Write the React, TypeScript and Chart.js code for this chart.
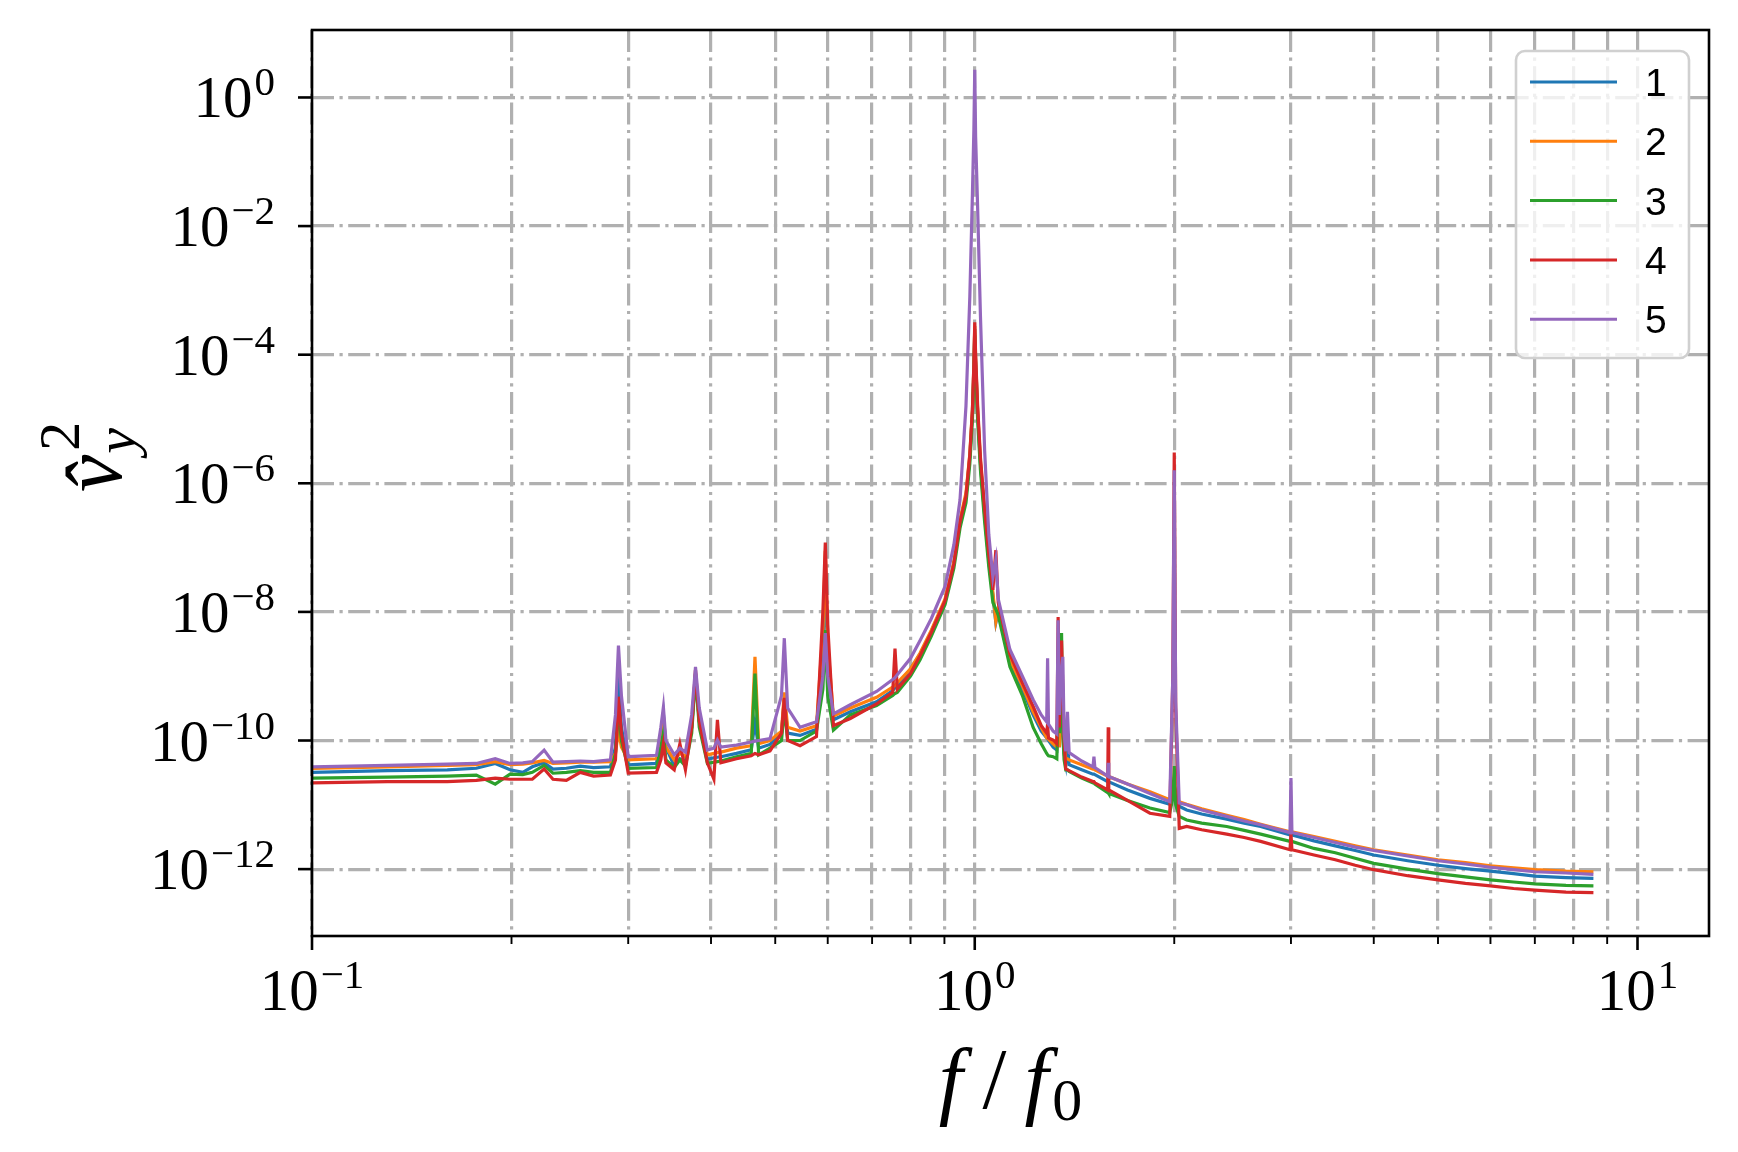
import React, { useEffect, useRef } from "react";
import { Chart, registerables } from "chart.js";

Chart.register(...registerables);

// ---------- data ----------
const frequencyRatio = [
  0.100, 0.130, 0.160, 0.177, 0.189, 0.199, 0.208, 0.215, 0.224, 0.231,
  0.242, 0.254, 0.266, 0.282, 0.287, 0.290, 0.293, 0.300, 0.331, 0.336,
  0.339, 0.342, 0.352, 0.359, 0.366, 0.374, 0.379, 0.384, 0.395, 0.404,
  0.409, 0.414, 0.437, 0.460, 0.466, 0.472, 0.491, 0.511, 0.516, 0.522,
  0.545, 0.577, 0.590, 0.595, 0.600, 0.612, 0.649, 0.711, 0.752, 0.758,
  0.764, 0.800, 0.827, 0.860, 0.902, 0.930, 0.950, 0.970, 0.983, 0.992,
  0.997, 1.000, 1.003, 1.010, 1.020, 1.035, 1.050, 1.065, 1.076, 1.085,
  1.130, 1.180, 1.225, 1.260, 1.284, 1.288, 1.292, 1.313, 1.330, 1.336,
  1.342, 1.352, 1.358, 1.364, 1.372, 1.380, 1.388, 1.45, 1.508, 1.513,
  1.518, 1.587, 1.590, 1.593, 1.70, 1.838, 1.969, 1.990, 2.000, 2.010,
  2.035, 2.088, 2.20, 2.40, 2.55, 2.70, 2.99, 3.00, 3.01, 3.25,
  3.50, 3.75, 4.00, 4.50, 5.00, 5.50, 6.00, 6.50, 7.00, 7.80,
  8.58,
];

const series1 = [
  3.2e-11, 3.4e-11, 3.5e-11, 3.7e-11, 4.4e-11, 3.5e-11, 3.2e-11, 3.9e-11, 4.5e-11, 3.6e-11,
  3.7e-11, 4.0e-11, 3.8e-11, 3.9e-11, 7.9e-11, 9.8e-10, 1.6e-10, 4.2e-11, 4.4e-11, 1.3e-10,
  2.6e-10, 7.9e-11, 4.0e-11, 5.2e-11, 4.7e-11, 1.6e-10, 1.1e-9, 2.0e-10, 5.1e-11, 5.4e-11,
  5.5e-11, 5.6e-11, 6.3e-11, 7.2e-11, 1.9e-10, 7.6e-11, 8.7e-11, 1.3e-10, 4.5e-10, 1.3e-10,
  1.2e-10, 1.5e-10, 2.5e-9, 5.0e-8, 1.6e-9, 2.1e-10, 2.8e-10, 4.0e-10, 6.0e-10, 6.6e-10,
  7.1e-10, 1.3e-9, 2.2e-9, 5.0e-9, 1.5e-8, 5.6e-8, 2.5e-7, 6.3e-7, 2.5e-6, 1.3e-5,
  6.3e-5, 2.5e-4, 7.9e-5, 1.3e-5, 2.0e-6, 3.2e-7, 6.3e-8, 1.8e-8, 6.8e-9, 1.0e-8,
  1.6e-9, 6.3e-10, 2.5e-10, 1.4e-10, 1.1e-10, 1.07e-10, 1.0e-10, 7.9e-11, 7.1e-11, 4.0e-10,
  7.9e-11, 5.0e-10, 2.5e-10, 6.3e-11, 4.4e-11, 1.0e-10, 4.2e-11, 3.5e-11, 3.0e-11, 3.0e-11,
  2.95e-11, 2.3e-11, 2.3e-11, 2.3e-11, 1.7e-11, 1.26e-11, 1.02e-11, 1.5e-11, 2.0e-11, 1.4e-11,
  9.5e-12, 8.3e-12, 7.2e-12, 6.0e-12, 5.2e-12, 4.6e-12, 3.4e-12, 3.4e-12, 3.4e-12, 2.75e-12,
  2.3e-12, 1.95e-12, 1.66e-12, 1.35e-12, 1.15e-12, 1.02e-12, 9.3e-13, 8.5e-13, 7.8e-13, 7.4e-13,
  7.2e-13,
];

const series2 = [
  3.7e-11, 3.9e-11, 4.1e-11, 4.2e-11, 4.7e-11, 4.2e-11, 4.3e-11, 4.5e-11, 4.9e-11, 4.4e-11,
  4.5e-11, 4.6e-11, 4.6e-11, 4.7e-11, 6.3e-11, 1.45e-10, 7.9e-11, 5.0e-11, 5.2e-11, 1.0e-10,
  2.4e-10, 7.9e-11, 5.0e-11, 6.3e-11, 5.6e-11, 1.6e-10, 1.1e-9, 2.0e-10, 6.0e-11, 6.3e-11,
  6.5e-11, 6.6e-11, 7.6e-11, 8.3e-11, 2.0e-9, 8.9e-11, 1.0e-10, 1.4e-10, 5.6e-10, 1.6e-10,
  1.4e-10, 1.7e-10, 5.0e-9, 8.9e-8, 3.2e-9, 2.4e-10, 3.2e-10, 4.7e-10, 6.8e-10, 7.2e-10,
  7.9e-10, 1.3e-9, 2.3e-9, 5.2e-9, 1.6e-8, 6.0e-8, 2.7e-7, 7.1e-7, 2.8e-6, 1.4e-5,
  7.1e-5, 2.8e-4, 8.9e-5, 1.4e-5, 2.2e-6, 3.5e-7, 7.1e-8, 2.0e-8, 7.1e-9, 1.1e-8,
  1.8e-9, 7.1e-10, 2.8e-10, 1.6e-10, 1.1e-10, 1.1e-10, 1.05e-10, 8.9e-11, 7.9e-11, 2.5e-10,
  7.9e-11, 2.5e-10, 1.6e-10, 7.9e-11, 5.2e-11, 5.2e-11, 5.0e-11, 4.2e-11, 3.6e-11, 3.6e-11,
  3.5e-11, 2.8e-11, 2.8e-11, 2.75e-11, 2.1e-11, 1.6e-11, 1.2e-11, 1.6e-11, 2.0e-11, 1.5e-11,
  1.12e-11, 1.02e-11, 8.7e-12, 6.9e-12, 5.9e-12, 5.0e-12, 3.8e-12, 3.8e-12, 3.8e-12, 3.2e-12,
  2.7e-12, 2.3e-12, 2.0e-12, 1.66e-12, 1.4e-12, 1.26e-12, 1.12e-12, 1.05e-12, 9.8e-13, 9.3e-13,
  9.1e-13,
];

const series3 = [
  2.6e-11, 2.7e-11, 2.8e-11, 2.9e-11, 2.1e-11, 3.0e-11, 2.95e-11, 3.2e-11, 4.1e-11, 3.1e-11,
  3.2e-11, 3.4e-11, 3.2e-11, 3.2e-11, 6.3e-11, 3.2e-10, 1.0e-10, 3.7e-11, 3.8e-11, 7.9e-11,
  1.3e-10, 5.0e-11, 3.8e-11, 5.0e-11, 4.0e-11, 1.3e-10, 1.0e-9, 1.6e-10, 4.4e-11, 4.6e-11,
  4.7e-11, 4.8e-11, 5.6e-11, 6.3e-11, 1.1e-9, 6.0e-11, 7.6e-11, 1.0e-10, 3.2e-10, 1.0e-10,
  1.0e-10, 1.4e-10, 6.3e-10, 5.2e-9, 5.0e-10, 1.45e-10, 2.5e-10, 3.5e-10, 5.0e-10, 5.4e-10,
  5.6e-10, 1.0e-9, 1.8e-9, 4.2e-9, 1.3e-8, 4.8e-8, 2.0e-7, 5.0e-7, 2.0e-6, 1.0e-5,
  5.0e-5, 2.0e-4, 6.3e-5, 1.0e-5, 1.6e-6, 2.5e-7, 5.0e-8, 1.4e-8, 1.1e-8, 8.9e-9,
  1.4e-9, 5.0e-10, 1.6e-10, 8.9e-11, 6.3e-11, 6.0e-11, 5.8e-11, 5.6e-11, 5.2e-11, 3.2e-10,
  1.3e-10, 4.7e-9, 1.3e-10, 5.0e-11, 3.5e-11, 3.5e-11, 3.3e-11, 2.6e-11, 2.2e-11, 2.2e-11,
  2.1e-11, 1.55e-11, 1.55e-11, 1.5e-11, 1.17e-11, 8.9e-12, 7.6e-12, 1.26e-11, 4.0e-11, 1.0e-11,
  6.6e-12, 5.8e-12, 5.2e-12, 4.6e-12, 4.0e-12, 3.5e-12, 2.7e-12, 2.7e-12, 2.7e-12, 2.1e-12,
  1.8e-12, 1.48e-12, 1.23e-12, 1.0e-12, 8.5e-13, 7.6e-13, 6.8e-13, 6.3e-13, 5.9e-13, 5.6e-13,
  5.5e-13,
];

const series4 = [
  2.2e-11, 2.3e-11, 2.3e-11, 2.4e-11, 2.6e-11, 2.5e-11, 2.5e-11, 2.5e-11, 3.6e-11, 2.5e-11,
  2.4e-11, 3.2e-11, 2.8e-11, 2.9e-11, 5.0e-11, 4.8e-10, 1.3e-10, 3.1e-11, 3.2e-11, 5.0e-11,
  8.9e-11, 4.5e-11, 3.5e-11, 8.9e-11, 3.5e-11, 1.6e-10, 1.26e-9, 2.0e-10, 4.5e-11, 2.5e-11,
  2.1e-10, 4.5e-11, 5.2e-11, 5.8e-11, 6.3e-11, 6.0e-11, 6.9e-11, 1.3e-10, 4.6e-10, 1.0e-10,
  8.3e-11, 1.15e-10, 1.0e-8, 1.2e-7, 6.3e-9, 1.7e-10, 2.2e-10, 3.7e-10, 5.6e-10, 2.7e-9,
  6.3e-10, 1.1e-9, 2.1e-9, 4.8e-9, 1.5e-8, 5.6e-8, 2.5e-7, 6.3e-7, 2.8e-6, 1.4e-5,
  7.1e-5, 3.2e-4, 1.0e-4, 1.6e-5, 2.5e-6, 4.0e-7, 7.9e-8, 2.2e-8, 9.1e-8, 1.4e-8,
  2.2e-9, 7.9e-10, 3.4e-10, 1.7e-10, 1.3e-10, 1.8e-10, 1.1e-10, 1.02e-10, 8.9e-11, 8.3e-9,
  1.6e-10, 3.6e-9, 6.3e-10, 1.0e-10, 3.6e-11, 3.5e-11, 3.4e-11, 2.7e-11, 2.3e-11, 2.3e-11,
  2.2e-11, 1.7e-11, 1.6e-10, 1.7e-11, 1.17e-11, 7.4e-12, 6.6e-12, 1.0e-9, 3.0e-6, 3.2e-10,
  4.3e-12, 4.6e-12, 4.1e-12, 3.5e-12, 3.1e-12, 2.7e-12, 2.0e-12, 3.5e-12, 2.0e-12, 1.66e-12,
  1.4e-12, 1.15e-12, 9.8e-13, 7.9e-13, 6.8e-13, 6.0e-13, 5.5e-13, 5.0e-13, 4.7e-13, 4.4e-13,
  4.3e-13,
];

const series5 = [
  3.9e-11, 4.1e-11, 4.3e-11, 4.4e-11, 5.2e-11, 4.4e-11, 4.5e-11, 4.7e-11, 7.1e-11, 4.6e-11,
  4.7e-11, 4.8e-11, 4.7e-11, 5.0e-11, 2.5e-10, 3.0e-9, 5.0e-10, 5.6e-11, 5.9e-11, 1.6e-10,
  3.3e-10, 1.0e-10, 6.0e-11, 7.6e-11, 6.6e-11, 2.5e-10, 1.4e-9, 3.2e-10, 7.1e-11, 7.6e-11,
  1.02e-10, 7.9e-11, 8.5e-11, 9.5e-11, 9.8e-11, 1.0e-10, 1.07e-10, 5.0e-10, 3.9e-9, 3.2e-10,
  1.6e-10, 1.95e-10, 1.0e-9, 4.7e-9, 1.0e-9, 2.6e-10, 3.6e-10, 5.8e-10, 8.9e-10, 9.5e-10,
  1.05e-9, 1.9e-9, 3.6e-9, 7.9e-9, 2.5e-8, 1.1e-7, 5.5e-7, 1.6e-5, 7.9e-4, 3.2e-2,
  3.2e-1, 2.7, 2.5e-1, 2.0e-2, 4.0e-4, 3.2e-6, 1.6e-7, 3.5e-8, 6.5e-8, 1.6e-8,
  2.6e-9, 1.0e-9, 4.3e-10, 2.5e-10, 1.95e-10, 1.9e-9, 1.8e-10, 1.4e-10, 1.26e-10, 7.4e-9,
  2.5e-10, 1.26e-9, 2.0e-9, 1.26e-10, 6.8e-11, 2.8e-10, 6.5e-11, 4.8e-11, 3.9e-11, 5.6e-11,
  3.8e-11, 2.8e-11, 4.5e-11, 2.75e-11, 2.1e-11, 1.5e-11, 1.12e-11, 1.0e-9, 1.6e-6, 4.0e-10,
  1.07e-11, 1.0e-11, 8.3e-12, 6.6e-12, 5.6e-12, 4.9e-12, 3.7e-12, 2.6e-11, 3.7e-12, 3.1e-12,
  2.6e-12, 2.2e-12, 1.95e-12, 1.6e-12, 1.35e-12, 1.2e-12, 1.07e-12, 9.8e-13, 9.1e-13, 8.7e-13,
  8.3e-13,
];

const seriesLabels = ["1", "2", "3", "4", "5"];
const seriesColors = ["#1f77b4", "#ff7f0e", "#2ca02c", "#d62728", "#9467bd"];

const xMajorTicks = [0.1, 1, 10];
const xMajorTickExponents = ["\u22121", "0", "1"];
const xMinorTicks = [0.2, 0.3, 0.4, 0.5, 0.6, 0.7, 0.8, 0.9, 2, 3, 4, 5, 6, 7, 8, 9];
const yTicks = [1e-12, 1e-10, 1e-8, 1e-6, 1e-4, 1e-2, 1];
const yTickExponents = ["\u221212", "\u221210", "\u22128", "\u22126", "\u22124", "\u22122", "0"];
const xRange = [0.1, 12.82];
const yRange = [9.12e-14, 11.2];

// ---------- layout / style ----------
const W = 1738;
const H = 1152;
const PLOT = { left: 312, top: 30, right: 1709, bottom: 936 };
const GRID = "#b0b0b0";
const GRID_DASH = [22, 5.5, 3.2, 5.5];
const SERIF = '"Liberation Serif", "DejaVu Serif", serif';
const SANS = '"Liberation Sans", Arial, sans-serif';

function drawPower(ctx: CanvasRenderingContext2D, exp: string, x: number, baseY: number, align: "right" | "center") {
  const baseFont = `59px ${SERIF}`;
  const expFont = `41px ${SERIF}`;
  ctx.font = baseFont;
  const wb = ctx.measureText("10").width;
  ctx.font = expFont;
  const we = ctx.measureText(exp).width;
  const gap = 2;
  const total = wb + gap + we;
  const x0 = align === "right" ? x - total : x - total / 2;
  ctx.textAlign = "left";
  ctx.textBaseline = "alphabetic";
  ctx.fillStyle = "#000";
  ctx.font = baseFont;
  ctx.fillText("10", x0, baseY);
  ctx.font = expFont;
  ctx.fillText(exp, x0 + wb + gap, baseY - 22);
}

function line(ctx: CanvasRenderingContext2D, x1: number, y1: number, x2: number, y2: number) {
  ctx.beginPath();
  ctx.moveTo(x1, y1);
  ctx.lineTo(x2, y2);
  ctx.stroke();
}

function roundRectPath(ctx: CanvasRenderingContext2D, x: number, y: number, w: number, h: number, r: number) {
  ctx.beginPath();
  ctx.moveTo(x + r, y);
  ctx.lineTo(x + w - r, y);
  ctx.arcTo(x + w, y, x + w, y + r, r);
  ctx.lineTo(x + w, y + h - r);
  ctx.arcTo(x + w, y + h, x + w - r, y + h, r);
  ctx.lineTo(x + r, y + h);
  ctx.arcTo(x, y + h, x, y + h - r, r);
  ctx.lineTo(x, y + r);
  ctx.arcTo(x, y, x + r, y, r);
  ctx.closePath();
}

const decorations = {
  id: "decorations",
  afterDraw(chart: any) {
    const ctx: CanvasRenderingContext2D = chart.ctx;
    const { left, right, top, bottom } = chart.chartArea;
    const xs = chart.scales.x;
    const ys = chart.scales.y;
    ctx.save();
    ctx.setLineDash([]);
    ctx.strokeStyle = "#000";
    ctx.lineCap = "butt";

    // frame
    ctx.lineWidth = 2.6;
    ctx.strokeRect(left, top, right - left, bottom - top);

    // x ticks
    ctx.lineWidth = 2.6;
    xMajorTicks.forEach((v) => {
      const px = xs.getPixelForValue(v);
      line(ctx, px, bottom, px, bottom + 14);
    });
    ctx.lineWidth = 1.9;
    xMinorTicks.forEach((v) => {
      const px = xs.getPixelForValue(v);
      line(ctx, px, bottom, px, bottom + 8);
    });
    // y ticks
    ctx.lineWidth = 2.6;
    yTicks.forEach((v) => {
      const py = ys.getPixelForValue(v);
      line(ctx, left - 14, py, left, py);
    });

    // tick labels
    xMajorTicks.forEach((v, i) => {
      const px = xs.getPixelForValue(v);
      drawPower(ctx, xMajorTickExponents[i], px, 1010, "center");
    });
    yTicks.forEach((v, i) => {
      const py = ys.getPixelForValue(v);
      drawPower(ctx, yTickExponents[i], left - 37, py + 20, "right");
    });

    // x axis label: f / f0
    {
      const big = 86;
      const cx = (left + right) / 2;
      const base = 1108;
      ctx.font = `italic ${big}px ${SERIF}`;
      const wf = ctx.measureText("f").width;
      ctx.font = `${big}px ${SERIF}`;
      const ws = ctx.measureText("/").width;
      ctx.font = `60px ${SERIF}`;
      const w0 = ctx.measureText("0").width;
      const g1 = 20, g2 = 18, g3 = 4;
      const total = wf + g1 + ws + g2 + wf + g3 + w0;
      let x = cx - total / 2;
      ctx.fillStyle = "#000";
      ctx.textAlign = "left";
      ctx.textBaseline = "alphabetic";
      ctx.font = `italic ${big}px ${SERIF}`;
      ctx.fillText("f", x, base);
      x += wf + g1;
      ctx.font = `${big}px ${SERIF}`;
      ctx.fillText("/", x, base);
      x += ws + g2;
      ctx.font = `italic ${big}px ${SERIF}`;
      ctx.fillText("f", x, base);
      x += wf + g3;
      ctx.font = `60px ${SERIF}`;
      ctx.fillText("0", x, base + 12);
    }

    // y axis label: v-hat _y ^2 (rotated)
    {
      const big = 84;
      ctx.save();
      ctx.translate(121, 492);
      ctx.rotate(-Math.PI / 2);
      ctx.fillStyle = "#000";
      ctx.textAlign = "left";
      ctx.textBaseline = "alphabetic";
      ctx.font = `italic ${big}px ${SERIF}`;
      const wv = ctx.measureText("v").width;
      ctx.fillText("v\u0302", 0, 0);
      ctx.font = `italic 58px ${SERIF}`;
      ctx.fillText("y", wv + 1, 14);
      ctx.font = `58px ${SERIF}`;
      ctx.fillText("2", wv + 4, -42);
      ctx.restore();
    }

    // legend
    {
      const lx = 1516, ly = 51, lw = 173, lh = 307;
      roundRectPath(ctx, lx, ly, lw, lh, 9);
      ctx.fillStyle = "rgba(255,255,255,0.8)";
      ctx.fill();
      ctx.strokeStyle = "#d0d0d0";
      ctx.lineWidth = 2.6;
      ctx.stroke();
      chart.data.datasets.forEach((ds: any, i: number) => {
        const ry = 82 + i * 59.3;
        ctx.strokeStyle = ds.borderColor;
        ctx.lineWidth = 3;
        line(ctx, 1530, ry, 1617, ry);
        ctx.fillStyle = "#000";
        ctx.font = `39px ${SANS}`;
        ctx.textAlign = "left";
        ctx.textBaseline = "alphabetic";
        ctx.fillText(ds.label, 1645, ry + 14);
      });
    }
    ctx.restore();
  },
};

export default function App() {
  const canvasRef = useRef<HTMLCanvasElement>(null);

  useEffect(() => {
    const canvas = canvasRef.current;
    if (!canvas) return;
    const seriesValues = [series1, series2, series3, series4, series5];
    const datasets = seriesValues.map((vals, i) => ({
      label: seriesLabels[i],
      data: frequencyRatio.map((f, j) => ({ x: f, y: vals[j] })),
      borderColor: seriesColors[i],
      backgroundColor: seriesColors[i],
      borderWidth: 3.2,
      pointRadius: 0,
      pointHoverRadius: 0,
      tension: 0,
      fill: false,
      order: 5 - i,
    }));
    const chart = new Chart(canvas, {
      type: "line",
      data: { datasets },
      options: {
        responsive: false,
        animation: false,
        events: [],
        layout: { padding: { left: 0, top: PLOT.top, right: W - PLOT.right, bottom: 0 } },
        plugins: { legend: { display: false }, tooltip: { enabled: false } },
        scales: {
          x: {
            type: "logarithmic",
            position: "bottom",
            min: xRange[0],
            max: xRange[1],
            afterBuildTicks: (s: any) => {
              s.ticks = [...xMajorTicks, ...xMinorTicks].sort((a, b) => a - b).map((v) => ({ value: v }));
            },
            afterFit: (s: any) => {
              s.height = H - PLOT.bottom;
            },
            ticks: { display: false },
            grid: { color: GRID, lineWidth: 3.2, drawTicks: false },
            border: { display: false, dash: GRID_DASH },
          },
          y: {
            type: "logarithmic",
            position: "left",
            min: yRange[0],
            max: yRange[1],
            afterBuildTicks: (s: any) => {
              s.ticks = yTicks.map((v) => ({ value: v }));
            },
            afterFit: (s: any) => {
              s.width = PLOT.left;
            },
            ticks: { display: false },
            grid: { color: GRID, lineWidth: 3.2, drawTicks: false },
            border: { display: false, dash: GRID_DASH },
          },
        },
      } as any,
      plugins: [decorations],
    });
    return () => chart.destroy();
  }, []);

  return (
    <div style={{ position: "absolute", left: 0, top: 0, width: W, height: H, background: "#fff" }}>
      <canvas ref={canvasRef} width={W} height={H} style={{ display: "block", width: W, height: H }} />
    </div>
  );
}
